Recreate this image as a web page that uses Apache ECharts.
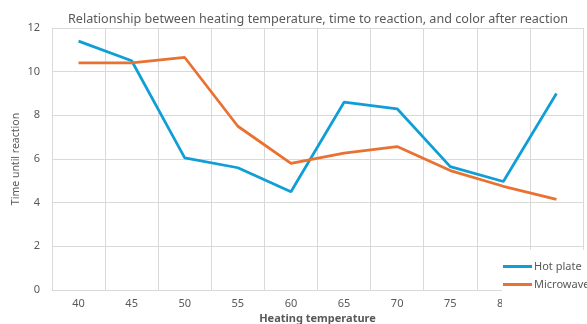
<!DOCTYPE html>
<html>
<head>
<meta charset="utf-8">
<script src="https://cdn.jsdelivr.net/npm/echarts@6/dist/echarts.min.js"></script>
<style>
  html, body { margin: 0; padding: 0; background: #fff; }
  #chart { width: 587px; height: 324px; }
</style>
</head>
<body>
<div id="chart"></div>
<script>
// heating temperature categories
var temps = ['40', '45', '50', '55', '60', '65', '70', '75', '80', '85'];
// time until reaction
var hotPlate  = [11.4, 10.5, 6.05, 5.6, 4.5, 8.6, 8.3, 5.65, 4.97, 9.0];
var microwave = [10.4, 10.4, 10.65, 7.5, 5.8, 6.27, 6.57, 5.47, 4.75, 4.15];
var yTicks = [0, 2, 4, 6, 8, 10, 12];

var gridColor = '#d9d9d9';
var textColor = '#595959';
var font = 'Noto Sans';

var myChart = echarts.init(document.getElementById('chart'));
myChart.setOption({
  animation: false,
  title: {
    text: 'Relationship between heating temperature, time to reaction, and color after reaction',
    left: 68,
    top: 13,
    padding: 0,
    textStyle: { fontSize: 12.6, fontWeight: 'normal', color: textColor, fontFamily: font }
  },
  grid: { left: 52, right: 4, top: 28, bottom: 34, outerBoundsMode: 'none' },
  legend: {
    orient: 'vertical',
    left: 502,
    top: 250,
    padding: [11, 10, 18, 1],
    itemGap: 7,
    itemWidth: 29,
    itemHeight: 3,
    icon: 'rect',
    backgroundColor: '#fff',
    z: 10,
    data: ['Hot plate', 'Microwave'],
    textStyle: { fontSize: 11, color: textColor, fontFamily: font, padding: [0, 0, 0, -3] }
  },
  xAxis: {
    type: 'category',
    data: temps,
    boundaryGap: true,
    name: 'Heating temperature',
    nameLocation: 'middle',
    nameGap: 23,
    nameMoveOverlap: false,
    nameTextStyle: { fontSize: 11, fontWeight: 'bold', color: textColor, fontFamily: font },
    axisLine: { lineStyle: { color: gridColor } },
    axisTick: { show: false },
    axisLabel: { color: textColor, fontSize: 11, fontFamily: font, margin: 8 },
    splitLine: { show: true, lineStyle: { color: gridColor } }
  },
  yAxis: {
    type: 'value',
    min: yTicks[0],
    max: yTicks[yTicks.length - 1],
    interval: 2,
    name: 'Time until reaction',
    nameLocation: 'middle',
    nameGap: 30,
    nameMoveOverlap: false,
    nameTextStyle: { fontSize: 10.5, color: textColor, fontFamily: font },
    axisLine: { show: false },
    axisTick: { show: false },
    axisLabel: { color: textColor, fontSize: 11, fontFamily: font, margin: 12 },
    splitLine: { lineStyle: { color: gridColor } }
  },
  series: [
    {
      name: 'Hot plate',
      type: 'line',
      data: hotPlate,
      symbol: 'none',
      lineStyle: { width: 2.75, color: '#0F9ED5' },
      itemStyle: { color: '#0F9ED5' }
    },
    {
      name: 'Microwave',
      type: 'line',
      data: microwave,
      symbol: 'none',
      lineStyle: { width: 2.75, color: '#E97132' },
      itemStyle: { color: '#E97132' }
    }
  ]
});
</script>
</body>
</html>
